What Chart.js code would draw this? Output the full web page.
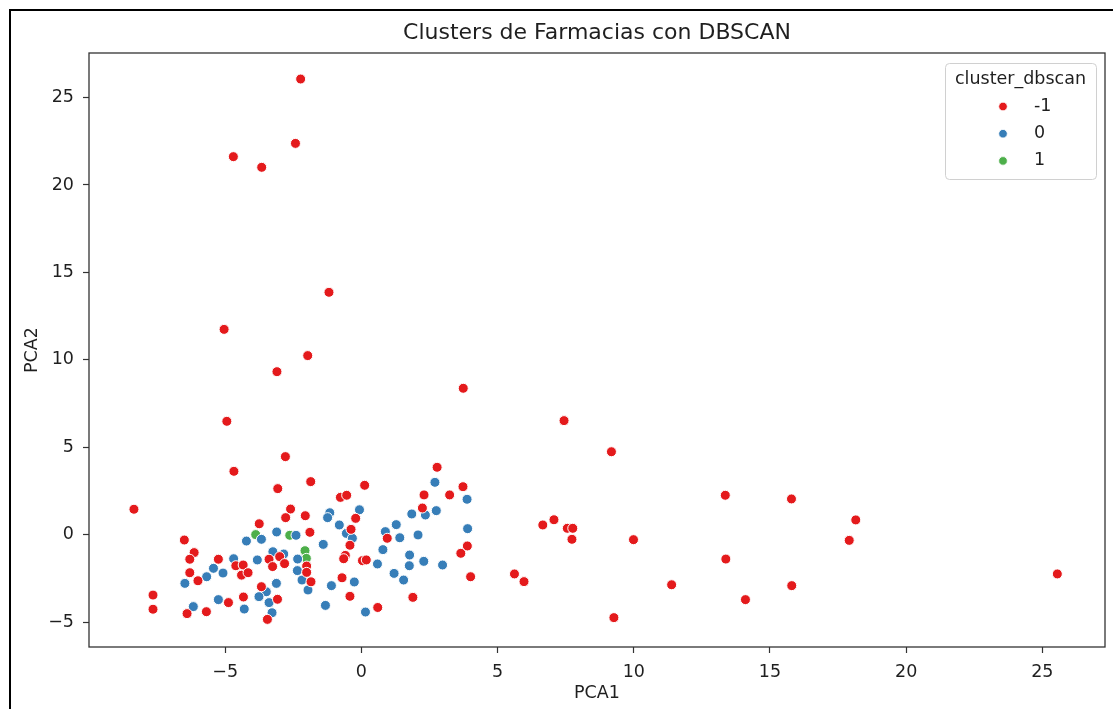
<!DOCTYPE html>
<html>
<head>
<meta charset="utf-8">
<title>Clusters de Farmacias con DBSCAN</title>
<script src="https://cdn.jsdelivr.net/npm/chart.js@4.4.1/dist/chart.umd.min.js"></script>
<style>
  html, body { margin: 0; padding: 0; background: #fff; }
  #wrap { position: relative; width: 1113px; height: 709px; overflow: hidden; }
  #wrap canvas { position: absolute; left: 0; top: 0; }
  #frame { position: absolute; left: 9px; top: 9px; width: 1130px; height: 730px;
           border-left: 2px solid #000; border-top: 2px solid #000; pointer-events: none; }
</style>
</head>
<body>
<div id="wrap">
  <canvas id="chart" width="1113" height="709"></canvas>
  <div id="frame"></div>
</div>
<script>
// Cluster labels as assigned by DBSCAN (-1 = noise)
const clusterLabels = ['-1', '0', '1'];
const clusterColors = ['#e41a1c', '#377eb8', '#4daf4a'];

// PCA projection of each pharmacy, [PCA1, PCA2], grouped by cluster
const puntosRuido = [
  [-2.23, 26.06], [-2.42, 22.38], [-4.70, 21.62], [-3.66, 21.01], [-1.19, 13.86],
  [-5.04, 11.74], [-1.97, 10.24], [-3.10, 9.32], [3.74, 8.37], [7.44, 6.52],
  [-4.94, 6.48], [9.18, 4.74], [-2.79, 4.46], [-4.68, 3.62], [-1.86, 3.03],
  [-3.07, 2.63], [0.12, 2.82], [2.78, 3.85], [3.73, 2.74], [3.24, 2.27],
  [2.30, 2.27], [2.24, 1.52], [-8.35, 1.45], [-0.77, 2.13], [-0.54, 2.25],
  [-2.60, 1.46], [-2.78, 0.97], [-2.06, 1.08], [-0.21, 0.93], [-0.38, 0.30],
  [-0.42, -0.61], [-3.75, 0.62], [-6.50, -0.31], [-1.89, 0.13], [-6.14, -1.03],
  [-6.30, -1.41], [-5.25, -1.41], [-3.39, -1.41], [-3.00, -1.26], [-2.82, -1.66],
  [-3.26, -1.83], [-2.01, -1.80], [-2.01, -2.16], [-1.85, -2.70], [-6.30, -2.18],
  [-6.00, -2.64], [-4.61, -1.78], [-4.34, -1.74], [-4.40, -2.32], [-4.16, -2.18],
  [-3.67, -2.98], [-3.08, -3.70], [-3.45, -4.85], [-7.65, -3.46], [-7.65, -4.27],
  [-6.40, -4.52], [-5.69, -4.41], [-4.88, -3.89], [-4.33, -3.57], [-0.71, -2.47],
  [-0.42, -3.53], [0.60, -4.17], [-0.59, -1.19], [-0.65, -1.38], [0.04, -1.49],
  [0.18, -1.45], [0.95, -0.21], [3.89, -0.65], [3.65, -1.07], [4.01, -2.41],
  [1.89, -3.59], [5.62, -2.25], [5.97, -2.69], [6.66, 0.55], [7.07, 0.85],
  [7.56, 0.36], [7.76, 0.36], [7.73, -0.27], [9.99, -0.29], [9.27, -4.75],
  [11.39, -2.87], [13.36, 2.25], [13.38, -1.40], [14.10, -3.72], [15.79, 2.04],
  [18.15, 0.84], [17.91, -0.33], [15.80, -2.92], [25.55, -2.25]
];
const puntosCluster0 = [
  [-0.07, 1.42], [-1.16, 1.25], [-1.24, 0.97], [-0.81, 0.55], [-0.55, 0.07],
  [-0.33, -0.21], [-4.22, -0.37], [-3.67, -0.27], [-3.11, 0.15], [-2.40, -0.04],
  [-1.40, -0.56], [-4.69, -1.38], [-3.82, -1.45], [-3.25, -0.98], [-2.85, -1.11],
  [-2.34, -1.40], [-2.35, -2.06], [-2.18, -2.60], [-1.96, -3.17], [-6.48, -2.79],
  [-5.68, -2.41], [-5.43, -1.93], [-5.08, -2.20], [-3.49, -3.27], [-3.76, -3.55],
  [-3.12, -2.79], [-3.39, -3.89], [-3.28, -4.47], [-6.17, -4.12], [-5.25, -3.72],
  [-4.30, -4.26], [-1.32, -4.05], [-1.10, -2.92], [-0.26, -2.71], [0.15, -4.43],
  [0.59, -1.68], [0.79, -0.86], [2.70, 2.99], [3.88, 2.02], [2.75, 1.37],
  [2.35, 1.12], [1.85, 1.18], [1.28, 0.57], [0.88, 0.17], [1.41, -0.18],
  [2.08, -0.02], [3.90, 0.34], [2.98, -1.74], [2.29, -1.53], [1.77, -1.17],
  [1.76, -1.78], [1.20, -2.22], [1.55, -2.60]
];
const puntosCluster1 = [
  [-3.88, 0.00], [-2.63, -0.04], [-2.07, -0.92], [-2.02, -1.36]
];

// Axis ticks and limits
const xTickValues = [-5, 0, 5, 10, 15, 20, 25];
const yTickValues = [-5, 0, 5, 10, 15, 20, 25];
const xLimits = [-10.0, 27.3];
const yLimits = [-6.43, 27.55];

const FONT = "'DejaVu Sans', 'Liberation Sans', sans-serif";
const INK = '#1f1f1f';
const SPINE = '#333333';

const toXY = pts => pts.map(([x, y]) => ({ x, y }));
const fmtTick = v => (v < 0 ? '\u2212' + Math.abs(v) : String(v));

const grupos = [puntosRuido, puntosCluster0, puntosCluster1];

// Axes rectangle (all four spines)
const axesFrame = {
  id: 'axesFrame',
  afterDatasetsDraw(chart) {
    const { ctx, chartArea: a } = chart;
    ctx.save();
    ctx.strokeStyle = SPINE;
    ctx.lineWidth = 1.3;
    ctx.strokeRect(a.left, a.top, a.right - a.left, a.bottom - a.top);
    ctx.restore();
  }
};

// Boxed legend with title in the upper-right corner of the axes
const clusterLegend = {
  id: 'clusterLegend',
  afterDraw(chart) {
    const { ctx, chartArea: a } = chart;
    const w = 151, h = 116;
    const x0 = a.right - 9 - w, y0 = a.top + 10;
    ctx.save();
    ctx.beginPath();
    ctx.roundRect(x0 + 0.5, y0 + 0.5, w, h, 4);
    ctx.fillStyle = 'rgba(255,255,255,0.8)';
    ctx.fill();
    ctx.strokeStyle = '#d0d0d0';
    ctx.lineWidth = 1;
    ctx.stroke();

    ctx.fillStyle = INK;
    ctx.font = '17.5px ' + FONT;
    ctx.textBaseline = 'middle';
    ctx.textAlign = 'center';
    ctx.fillText('cluster_dbscan', x0 + w / 2, y0 + 16);

    chart.data.datasets.forEach((ds, i) => {
      const cy = y0 + 43.5 + i * 27.2;
      ctx.beginPath();
      ctx.arc(x0 + 58, cy, 4.3, 0, Math.PI * 2);
      ctx.fillStyle = ds.backgroundColor;
      ctx.fill();
      ctx.strokeStyle = '#ffffff';
      ctx.lineWidth = 0.8;
      ctx.stroke();
      ctx.fillStyle = INK;
      ctx.textAlign = 'left';
      ctx.fillText(ds.label, x0 + 89, cy);
    });
    ctx.restore();
  }
};

new Chart(document.getElementById('chart'), {
  type: 'scatter',
  data: {
    datasets: grupos.map((pts, i) => ({
      label: clusterLabels[i],
      data: toXY(pts),
      backgroundColor: clusterColors[i],
      borderColor: '#ffffff',
      pointRadius: 5,
      pointHoverRadius: 5,
      borderWidth: 1
    }))
  },
  options: {
    responsive: false,
    animation: false,
    devicePixelRatio: 1,
    events: [],
    layout: { padding: { left: 0, right: 8, top: 0, bottom: 0 } },
    plugins: {
      legend: { display: false },
      tooltip: { enabled: false },
      title: {
        display: true,
        fullSize: false,
        text: 'Clusters de Farmacias con DBSCAN',
        color: INK,
        font: { family: FONT, size: 22, weight: 'normal', lineHeight: 1.2 },
        padding: { top: 20, bottom: 6.6 }
      }
    },
    scales: {
      x: {
        type: 'linear',
        min: xLimits[0],
        max: xLimits[1],
        afterBuildTicks: s => { s.ticks = xTickValues.map(v => ({ value: v })); },
        afterFit: s => { s.height = 62; },
        grid: { display: true, drawOnChartArea: false, drawTicks: true, tickLength: 6, tickColor: SPINE, tickWidth: 1.2 },
        border: { display: false },
        ticks: {
          color: INK, padding: 8.5, maxRotation: 0, autoSkip: false,
          font: { family: FONT, size: 17.5, lineHeight: 1.2 },
          callback: v => fmtTick(v)
        },
        title: {
          display: true, text: 'PCA1', color: INK,
          font: { family: FONT, size: 17.5, lineHeight: 1.2 },
          padding: { top: 0, bottom: 5 }
        }
      },
      y: {
        type: 'linear',
        min: yLimits[0],
        max: yLimits[1],
        afterBuildTicks: s => { s.ticks = yTickValues.map(v => ({ value: v })); },
        afterFit: s => { s.width = 89; },
        grid: { display: true, drawOnChartArea: false, drawTicks: true, tickLength: 6, tickColor: SPINE, tickWidth: 1.2 },
        border: { display: false },
        ticks: {
          color: INK, padding: 9, autoSkip: false,
          font: { family: FONT, size: 17.5, lineHeight: 1.2 },
          callback: v => fmtTick(v)
        },
        title: {
          display: true, text: 'PCA2', color: INK,
          font: { family: FONT, size: 17.5, lineHeight: 1.2 },
          padding: { top: 21.5, bottom: 0 }
        }
      }
    }
  },
  plugins: [axesFrame, clusterLegend]
});
</script>
</body>
</html>
